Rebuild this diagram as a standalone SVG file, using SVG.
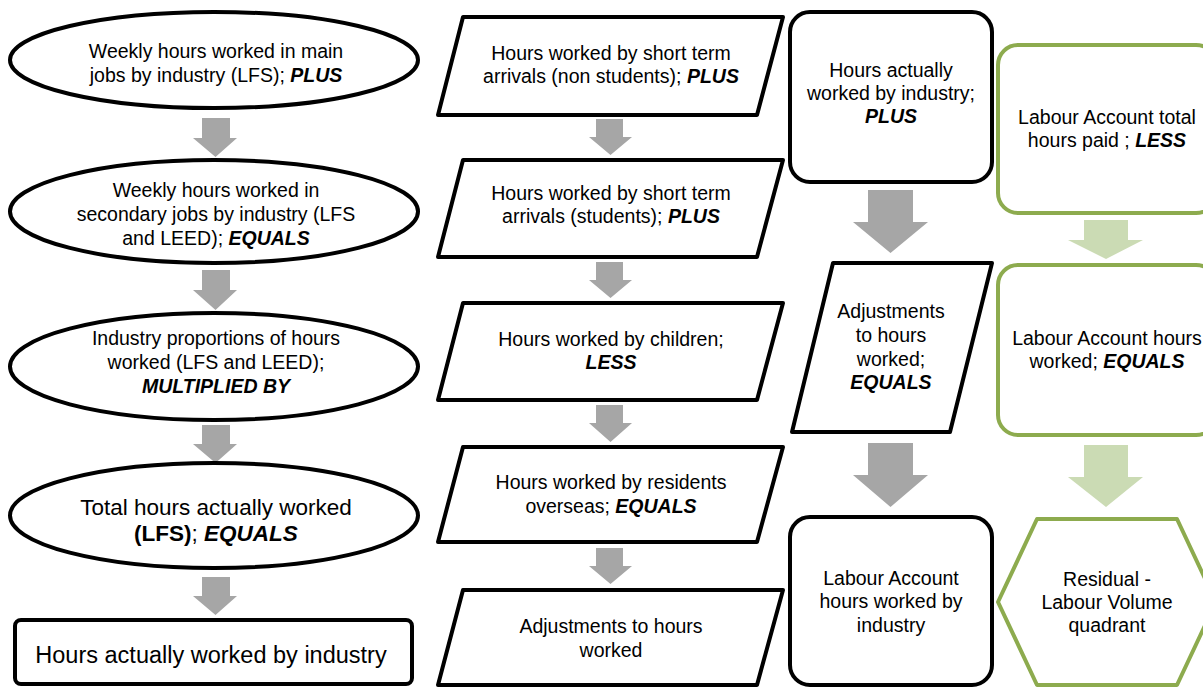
<svg xmlns="http://www.w3.org/2000/svg" width="1203" height="687" viewBox="0 0 1203 687">
<style>
.blk{fill:#fff;stroke:#000;stroke-width:4;stroke-linejoin:round}
.grn{fill:#fff;stroke:#8DAB4E;stroke-width:4;stroke-linejoin:round}
.ga{fill:#A6A6A6}
.la{fill:#CBDBB4}
text{font-family:"Liberation Sans",Arial,sans-serif;font-size:19.5px;fill:#000;text-anchor:middle}
.big{font-size:22.5px}
.bigger{font-size:23.5px}
.em{font-weight:bold;font-style:italic}
.b{font-weight:bold}
</style>
<rect width="1203" height="687" fill="#fff"/>
<g id="connectors">
<path class="ga" d="M202,118H230V138H237L215.5,157L193,138H202Z"/>
<path class="ga" d="M202,270H230V290H237L215.5,310L193,290H202Z"/>
<path class="ga" d="M202,425H230V444H237L215.5,463L193,444H202Z"/>
<path class="ga" d="M202,577H230V596H237L215.5,615L193,596H202Z"/>
<path class="ga" d="M596,119H623V137H632L610.5,155L589,137H596Z"/>
<path class="ga" d="M596,262H623V280H632L610.5,298L589,280H596Z"/>
<path class="ga" d="M596,405H623V423H632L610.5,442L589,423H596Z"/>
<path class="ga" d="M596,548H623V566H632L610.5,584L589,566H596Z"/>
<path class="ga" d="M868,190H913V222H928L890.5,253L853,222H868Z"/>
<path class="ga" d="M868,443H913V475H928L890.5,507L853,475H868Z"/>
<path class="la" d="M1084,220H1128V240H1143L1106,259L1068,240H1084Z"/>
<path class="la" d="M1084,445H1128V477H1143L1106,507L1068,477H1084Z"/>
</g>
<g id="n1">
<ellipse class="blk" cx="214" cy="60" rx="204" ry="48"/>
<text x="216" y="58">Weekly hours worked in main</text>
<text x="216" y="82">jobs by industry (LFS); <tspan class="em">PLUS</tspan></text>
</g>
<g id="n2">
<ellipse class="blk" cx="214" cy="211.5" rx="204" ry="51.5"/>
<text x="216" y="197">Weekly hours worked in</text>
<text x="216" y="221">secondary jobs by industry (LFS</text>
<text x="216" y="245">and LEED); <tspan class="em">EQUALS</tspan></text>
</g>
<g id="n3">
<ellipse class="blk" cx="214" cy="366.5" rx="204" ry="53.5"/>
<text x="216" y="345">Industry proportions of hours</text>
<text x="216" y="369">worked (LFS and LEED);</text>
<text x="216" y="393" class="em">MULTIPLIED BY</text>
</g>
<g id="n4">
<ellipse class="blk" cx="214" cy="515.5" rx="204" ry="52.5"/>
<text x="216" y="515" class="big">Total hours actually worked</text>
<text x="216" y="541" class="big"><tspan class="b">(LFS)</tspan>; <tspan font-style="italic" font-weight="bold">EQUALS</tspan></text>
</g>
<g id="n5">
<rect class="blk" x="15" y="620" width="397" height="64" rx="6"/>
<text x="211" y="663" class="bigger">Hours actually worked by industry</text>
</g>
<g id="m1">
<path class="blk" d="M463,17H783L757,115H438Z"/>
<text x="611" y="60">Hours worked by short term</text>
<text x="611" y="83">arrivals (non students); <tspan class="em">PLUS</tspan></text>
</g>
<g id="m2">
<path class="blk" d="M463,160H783L757,257H438Z"/>
<text x="611" y="200">Hours worked by short term</text>
<text x="611" y="223">arrivals (students); <tspan class="em">PLUS</tspan></text>
</g>
<g id="m3">
<path class="blk" d="M463,303H783L757,400H438Z"/>
<text x="611" y="346">Hours worked by children;</text>
<text x="611" y="369" class="em">LESS</text>
</g>
<g id="m4">
<path class="blk" d="M463,447H783L757,542H438Z"/>
<text x="611" y="489">Hours worked by residents</text>
<text x="611" y="513">overseas; <tspan class="em">EQUALS</tspan></text>
</g>
<g id="m5">
<path class="blk" d="M463,590H783L757,685H438Z"/>
<text x="611" y="633">Adjustments to hours</text>
<text x="611" y="657">worked</text>
</g>
<g id="c1">
<rect class="blk" x="790" y="12" width="202" height="170" rx="20"/>
<text x="891" y="77">Hours actually</text>
<text x="891" y="100">worked by industry;</text>
<text x="891" y="123" class="em">PLUS</text>
</g>
<g id="c2">
<path class="blk" d="M833,263H992L950,432H792Z"/>
<text x="891" y="318">Adjustments</text>
<text x="891" y="342">to hours</text>
<text x="891" y="366">worked;</text>
<text x="891" y="389" class="em">EQUALS</text>
</g>
<g id="c3">
<rect class="blk" x="790" y="517" width="202" height="168" rx="20"/>
<text x="891" y="585">Labour Account</text>
<text x="891" y="608">hours worked by</text>
<text x="891" y="632">industry</text>
</g>
<g id="g1">
<rect class="grn" x="998" y="45" width="218" height="168" rx="20"/>
<text x="1107" y="124">Labour Account total</text>
<text x="1107" y="147">hours paid ; <tspan class="em">LESS</tspan></text>
</g>
<g id="g2">
<rect class="grn" x="998" y="265" width="218" height="170" rx="20"/>
<text x="1107" y="345">Labour Account hours</text>
<text x="1107" y="368">worked; <tspan class="em">EQUALS</tspan></text>
</g>
<g id="g3">
<path class="grn" d="M1037,519H1177L1216,602L1177,685H1037L998,602Z"/>
<text x="1107" y="586">Residual -</text>
<text x="1107" y="609">Labour Volume</text>
<text x="1107" y="632">quadrant</text>
</g>
</svg>
